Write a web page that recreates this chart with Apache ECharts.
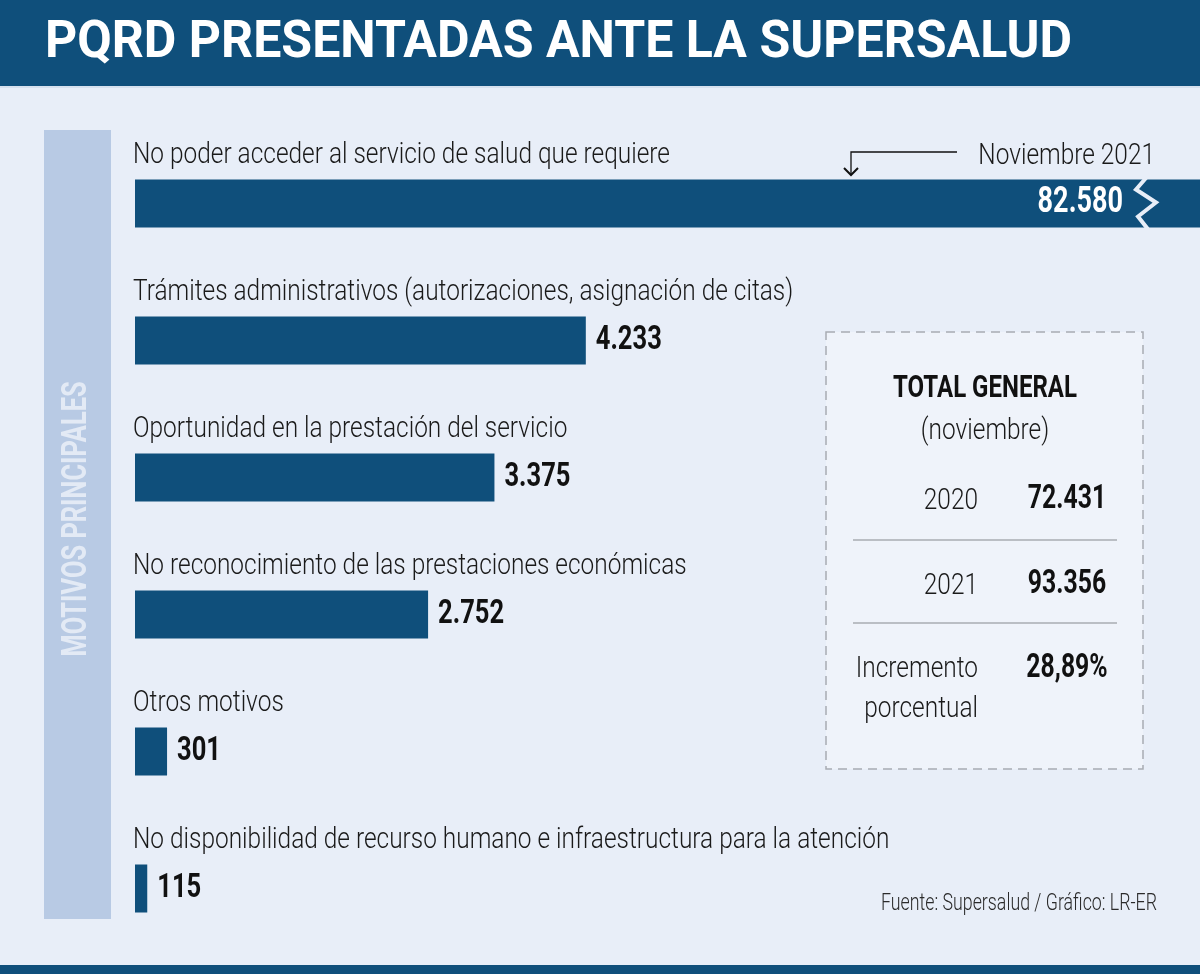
<!DOCTYPE html>
<html>
<head>
<meta charset="utf-8">
<script src="https://cdn.jsdelivr.net/npm/echarts@6/dist/echarts.min.js"></script>
<style>
html,body{margin:0;padding:0;background:#e8eef8;}
#chart{width:1200px;height:974px;}
</style>
</head>
<body>
<div id="chart"></div>
<script>
// ---- data ----
const categories = [
  'No poder acceder al servicio de salud que requiere',
  'Trámites administrativos (autorizaciones, asignación de citas)',
  'Oportunidad en la prestación del servicio',
  'No reconocimiento de las prestaciones económicas',
  'Otros motivos',
  'No disponibilidad de recurso humano e infraestructura para la atención'
];
const values = [82580, 4233, 3375, 2752, 301, 115];
const totalYears = ['2020', '2021'];
const totalValues = [72431, 93356];
const incrementLabel = 'Incremento\nporcentual';
const incrementValue = '28,89%';
const axisMax = 10000;

const TITLE = 'PQRD PRESENTADAS ANTE LA SUPERSALUD';
const SIDE = 'MOTIVOS PRINCIPALES';
const NOTE = 'Noviembre 2021';
const SOURCE = 'Fuente: Supersalud / Gráfico: LR-ER';

const FAM = "Roboto, 'DejaVu Sans Condensed', sans-serif";
const DARK = '#0f4f7b';
const BG = '#e8eef8';

function fmt(n) {
  return String(n).replace(/\B(?=(\d{3})+(?!\d))/g, '.');
}

// horizontal condensing factors so that text widths mimic the condensed original type
const mctx = document.createElement('canvas').getContext('2d');
function fit(text, weight, size, target) {
  mctx.font = weight + ' ' + size + 'px ' + FAM;
  return target / mctx.measureText(text).width;
}
const LIGHT_W = 300, BOLD_W = 700, SIDE_W = 700;
const lightScale = fit(categories[0], LIGHT_W, 30, 537);
const boldScale = fit('4.233', BOLD_W, 34, 66);
const titleScale = fit(TITLE, BOLD_W, 52, 1027);
const sideScale = fit(SIDE, SIDE_W, 36, 283);
const sourceScale = fit(SOURCE, LIGHT_W, 23, 276);

function txt(x, y, text, opts) {
  return {
    type: 'text', x: x, y: y, z: 2,
    scaleX: opts.scale,
    style: {
      text: text, fill: opts.fill || '#1a1a1a',
      fontFamily: FAM, fontWeight: opts.weight || LIGHT_W, fontSize: opts.size || 30,
      lineHeight: opts.lineHeight, align: opts.align || 'left', verticalAlign: 'middle'
    }
  };
}

const chart = echarts.init(document.getElementById('chart'), null, {renderer: 'canvas'});

const labelData = values.map((v, i) => [v, i]);

const option = {
  backgroundColor: BG,
  animation: false,
  grid: {left: 135, top: 135, width: 1068, height: 822, containLabel: false},
  xAxis: {type: 'value', min: 0, max: axisMax, show: false},
  yAxis: {type: 'category', data: categories, inverse: true, show: false},
  series: [
    {
      name: 'values', type: 'bar', data: values,
      barWidth: 48, clip: true,
      itemStyle: {color: DARK},
      z: 2
    },
    {
      name: 'labels', type: 'custom', data: labelData, z: 5, silent: true,
      renderItem: function (params, api) {
        const cs = params.coordSys;
        const v = api.value(0);
        const idx = api.value(1);
        const cy = api.coord([0, idx])[1];
        const children = [
          txt(cs.x - 2, cy - 48, categories[idx], {scale: lightScale, size: 30})
        ];
        if (v > axisMax) {
          const bx = cs.x + cs.width - 53;
          children.push({
            type: 'polyline',
            shape: {points: [[bx + 2, cy - 29], [bx - 11, cy - 14], [bx + 9, cy - 1], [bx - 9, cy + 13], [bx + 2, cy + 27]]},
            style: {stroke: BG, lineWidth: 4, fill: null, lineJoin: 'miter'}
          });
          children.push(txt(bx - 24, cy - 1, fmt(v), {scale: boldScale, size: 36, weight: BOLD_W, fill: '#ffffff', align: 'right'}));
        } else {
          const ex = api.coord([v, idx])[0];
          children.push(txt(ex + 10, cy, fmt(v), {scale: boldScale, size: 34, weight: BOLD_W, fill: '#111'}));
        }
        return {type: 'group', children: children};
      }
    }
  ],
  graphic: [
    // header band
    {type: 'rect', shape: {x: 0, y: 0, width: 1200, height: 86}, style: {fill: DARK}, z: 0},
    {type: 'rect', shape: {x: 0, y: 86, width: 1200, height: 2}, style: {fill: '#d6e1ee'}, z: 0},
    txt(45, 44, TITLE, {scale: titleScale, size: 52, weight: BOLD_W, fill: '#ffffff'}),
    // bottom band
    {type: 'rect', shape: {x: 0, y: 965, width: 1200, height: 9}, style: {fill: DARK}, z: 0},
    // side bar
    {type: 'rect', shape: {x: 44, y: 130, width: 67, height: 789}, style: {fill: '#b8cae4'}, z: 0},
    {type: 'text', x: 77, y: 519, rotation: Math.PI / 2, scaleX: sideScale, z: 1,
      style: {text: SIDE, fill: '#e3eaf5', fontFamily: FAM, fontWeight: SIDE_W, fontSize: 35, align: 'center', verticalAlign: 'middle'}},
    // annotation
    {type: 'polyline', shape: {points: [[957, 152], [851, 152], [851, 175]]}, style: {stroke: '#111', lineWidth: 1.3, fill: null}, z: 3},
    {type: 'polyline', shape: {points: [[844, 168], [851, 175], [858, 168]]}, style: {stroke: '#111', lineWidth: 2, fill: null}, z: 3},
    txt(1155, 156, NOTE, {scale: lightScale, size: 30, align: 'right'}),
    // total box
    {type: 'rect', shape: {x: 826, y: 332, width: 317, height: 437}, style: {fill: '#eff3fa', stroke: '#a8acb2', lineWidth: 1.5, lineDash: [9, 6]}, z: 0},
    txt(985, 389, 'TOTAL GENERAL', {scale: boldScale, size: 32, weight: BOLD_W, fill: '#111', align: 'center'}),
    txt(985, 431, '(noviembre)', {scale: lightScale, size: 30, align: 'center'}),
    txt(978, 501, totalYears[0], {scale: lightScale, size: 30, align: 'right'}),
    txt(1067, 500, fmt(totalValues[0]), {scale: boldScale, size: 33, weight: BOLD_W, fill: '#111', align: 'center'}),
    {type: 'line', shape: {x1: 853, y1: 540, x2: 1117, y2: 540}, style: {stroke: '#a8acb2', lineWidth: 1.5}, z: 1},
    txt(978, 586, totalYears[1], {scale: lightScale, size: 30, align: 'right'}),
    txt(1067, 585, fmt(totalValues[1]), {scale: boldScale, size: 33, weight: BOLD_W, fill: '#111', align: 'center'}),
    {type: 'line', shape: {x1: 853, y1: 623, x2: 1117, y2: 623}, style: {stroke: '#a8acb2', lineWidth: 1.5}, z: 1},
    txt(978, 689, incrementLabel, {scale: lightScale, size: 30, lineHeight: 40, align: 'right'}),
    txt(1067, 669, incrementValue, {scale: boldScale, size: 33, weight: BOLD_W, fill: '#111', align: 'center'}),
    // source
    txt(1157, 904, SOURCE, {scale: sourceScale, size: 23, fill: '#2a2a2a', align: 'right'})
  ]
};
chart.setOption(option);
</script>
</body>
</html>
